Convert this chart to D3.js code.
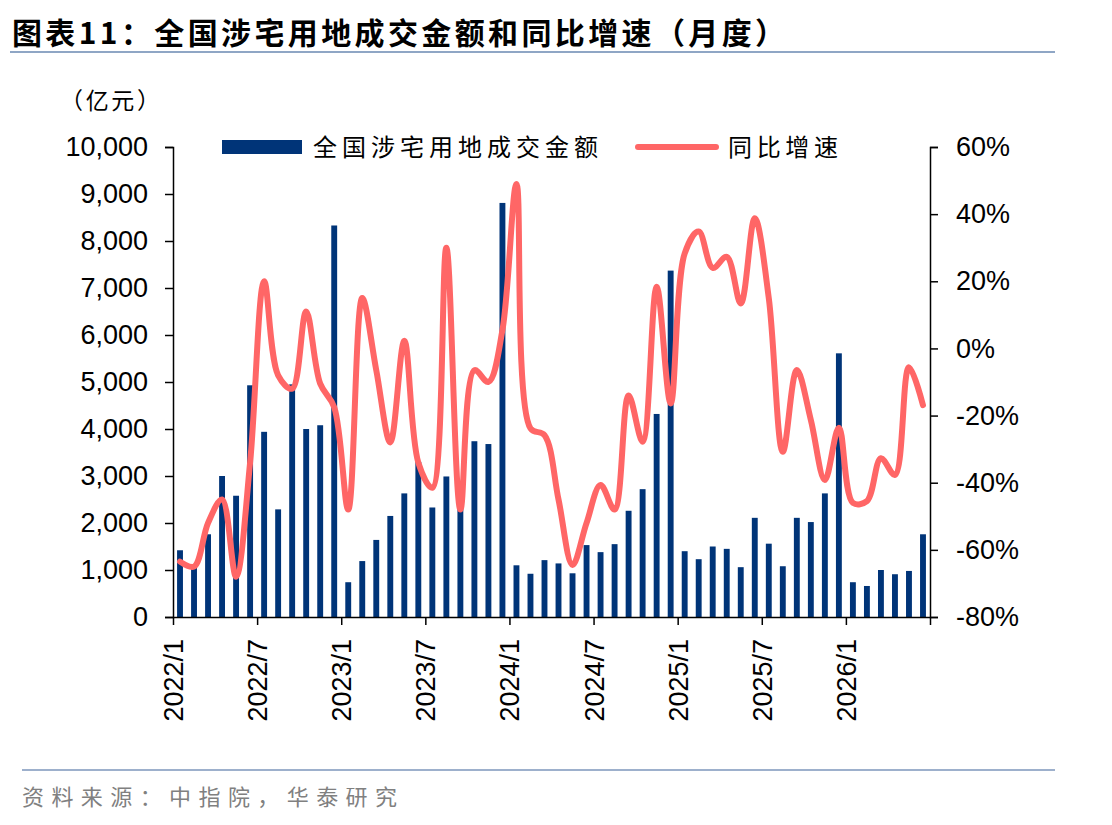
<!DOCTYPE html>
<html>
<head>
    <meta charset="utf-8">
    <title>land deals</title>
    <script src="https://cdn.jsdelivr.net/npm/d3@7"></script>
    <style>
        body { margin: 0; background: #fff; }
    </style>
</head>
<body>
<script>
    const width = 1112;
    const height = 825;

    // 2022/1 .. 2026/6
    const months = [
        "2022/1","2022/2","2022/3","2022/4","2022/5","2022/6","2022/7","2022/8","2022/9","2022/10","2022/11","2022/12",
        "2023/1","2023/2","2023/3","2023/4","2023/5","2023/6","2023/7","2023/8","2023/9","2023/10","2023/11","2023/12",
        "2024/1","2024/2","2024/3","2024/4","2024/5","2024/6","2024/7","2024/8","2024/9","2024/10","2024/11","2024/12",
        "2025/1","2025/2","2025/3","2025/4","2025/5","2025/6","2025/7","2025/8","2025/9","2025/10","2025/11","2025/12",
        "2026/1","2026/2","2026/3","2026/4","2026/5","2026/6"
    ];

    // 全国涉宅用地成交金额 (亿元)
    const amount = [
        1420, 1100, 1760, 3000, 2580, 4930, 3940, 2290, 4950, 4000, 4080, 8330,
        740, 1190, 1640, 2150, 2630, 3300, 2330, 2990, 2750, 3740, 3680, 8810,
        1100, 920, 1210, 1140, 930, 1530, 1380, 1550, 2260, 2720, 4320, 7370,
        1400, 1230, 1500, 1450, 1060, 2110, 1560, 1080, 2110, 2020, 2630, 5610,
        740, 660, 1000, 910, 980, 1760
    ];

    // 同比增速 (%)
    const growth = [
        -63.5, -65, -52, -45, -68, -34, 20, -8, -12, 11, -10.5, -17.5,
        -48, 15, -6.5, -28, 2.3, -34, -41.5, 30, -48, -6.5, -10, 5.5,
        49, -23.8, -25.8, -45, -64.5, -52, -40.7, -48, -14, -27.8, 18.4, -16.4,
        28.3, 34.8, 24, 27.3, 13.4, 38.8, 15, -30.8, -6.4, -21.3, -39.2, -23.6,
        -46, -45.5, -32.7, -37.7, -5.6, -16.9
    ];

    const leftTicks = [0, 1000, 2000, 3000, 4000, 5000, 6000, 7000, 8000, 9000, 10000];
    const rightTicks = [-80, -60, -40, -20, 0, 20, 40, 60];
    const xTickIdx = [0, 6, 12, 18, 24, 30, 36, 42, 48, 54];

    const barColor = "#003478";
    const lineColor = "#FF6666";
    const numFont = "'Liberation Sans', Arial, sans-serif";
    const cjkFont = "'Noto Sans CJK SC', sans-serif";

    const plot = { left: 173, right: 930, top: 147, bottom: 617 };

    const svg = d3.select("body").append("svg")
        .attr("width", width)
        .attr("height", height);

    // title
    svg.append("text")
        .attr("x", 12).attr("y", 44)
        .attr("font-family", cjkFont)
        .attr("font-weight", "bold")
        .attr("font-size", 30)
        .attr("textLength", 773)
        .attr("lengthAdjust", "spacing")
        .text("图表11：全国涉宅用地成交金额和同比增速（月度）");

    svg.append("line")
        .attr("x1", 10).attr("x2", 1055)
        .attr("y1", 52).attr("y2", 52)
        .attr("stroke", "#8FA6C5").attr("stroke-width", 2);

    svg.append("text")
        .attr("x", 60).attr("y", 109)
        .attr("font-family", cjkFont)
        .attr("font-size", 23)
        .attr("textLength", 100)
        .attr("lengthAdjust", "spacing")
        .text("（亿元）");

    // scales
    const xi = d3.scaleLinear().domain([0, months.length]).range([plot.left, plot.right]);
    const xb = d3.scaleBand().domain(months).range([plot.left, plot.right]).paddingInner(0.58).paddingOuter(0.29);
    const yl = d3.scaleLinear().domain([0, 10000]).range([plot.bottom, plot.top]);
    const yr = d3.scaleLinear().domain([-80, 60]).range([plot.bottom, plot.top]);

    // bars
    svg.append("g")
        .selectAll("rect")
        .data(amount)
        .join("rect")
        .attr("x", (d, i) => xb(months[i]))
        .attr("width", xb.bandwidth())
        .attr("y", d => yl(d))
        .attr("height", d => yl(0) - yl(d))
        .attr("fill", barColor);

    // growth line
    const line = d3.line()
        .x((d, i) => xi(i + 0.5))
        .y(d => yr(d))
        .curve(d3.curveCatmullRom.alpha(0.5));

    svg.append("path")
        .datum(growth)
        .attr("d", line)
        .attr("fill", "none")
        .attr("stroke", lineColor)
        .attr("stroke-width", 6)
        .attr("stroke-linejoin", "round")
        .attr("stroke-linecap", "round");

    // axes
    const styleAxis = g => {
        g.selectAll("path.domain").attr("stroke", "#000").attr("stroke-width", 1.5);
        g.selectAll(".tick line").attr("stroke", "#000").attr("stroke-width", 1.5);
        g.selectAll(".tick text").attr("font-family", numFont).attr("font-size", 27).attr("fill", "#000");
    };

    svg.append("g")
        .attr("transform", `translate(${plot.left},0)`)
        .call(d3.axisLeft(yl).tickValues(leftTicks).tickFormat(d3.format(",")).tickSize(8).tickSizeOuter(8).tickPadding(17))
        .call(styleAxis);

    svg.append("g")
        .attr("transform", `translate(${plot.right},0)`)
        .call(d3.axisRight(yr).tickValues(rightTicks).tickFormat(d => d + "%").tickSize(8).tickSizeOuter(8).tickPadding(18))
        .call(styleAxis);

    const gx = svg.append("g")
        .attr("transform", `translate(0,${plot.bottom})`)
        .call(d3.axisBottom(xi).tickValues(xTickIdx).tickFormat(i => months[i] || "").tickSize(8).tickSizeOuter(0))
        .call(styleAxis);

    gx.selectAll(".tick text")
        .attr("transform", "rotate(-90)")
        .attr("text-anchor", "end")
        .attr("x", -22)
        .attr("y", 0)
        .attr("dy", "0.35em");

    // legend
    const lg = svg.append("g");
    lg.append("rect")
        .attr("x", 222).attr("y", 140)
        .attr("width", 80).attr("height", 14)
        .attr("fill", barColor);
    lg.append("text")
        .attr("x", 313).attr("y", 156)
        .attr("font-family", cjkFont)
        .attr("font-size", 24)
        .attr("textLength", 285)
        .attr("lengthAdjust", "spacing")
        .text("全国涉宅用地成交金额");
    lg.append("line")
        .attr("x1", 638).attr("x2", 716)
        .attr("y1", 147).attr("y2", 147)
        .attr("stroke", lineColor)
        .attr("stroke-width", 6)
        .attr("stroke-linecap", "round");
    lg.append("text")
        .attr("x", 728).attr("y", 156)
        .attr("font-family", cjkFont)
        .attr("font-size", 24)
        .attr("textLength", 110)
        .attr("lengthAdjust", "spacing")
        .text("同比增速");

    // footer
    svg.append("line")
        .attr("x1", 22).attr("x2", 1055)
        .attr("y1", 770).attr("y2", 770)
        .attr("stroke", "#9DB0CC").attr("stroke-width", 2);

    svg.append("text")
        .attr("x", 22).attr("y", 805)
        .attr("font-family", cjkFont)
        .attr("font-size", 22)
        .attr("fill", "#808080")
        .attr("textLength", 375)
        .attr("lengthAdjust", "spacing")
        .text("资料来源：中指院，华泰研究");
</script>
</body>
</html>
